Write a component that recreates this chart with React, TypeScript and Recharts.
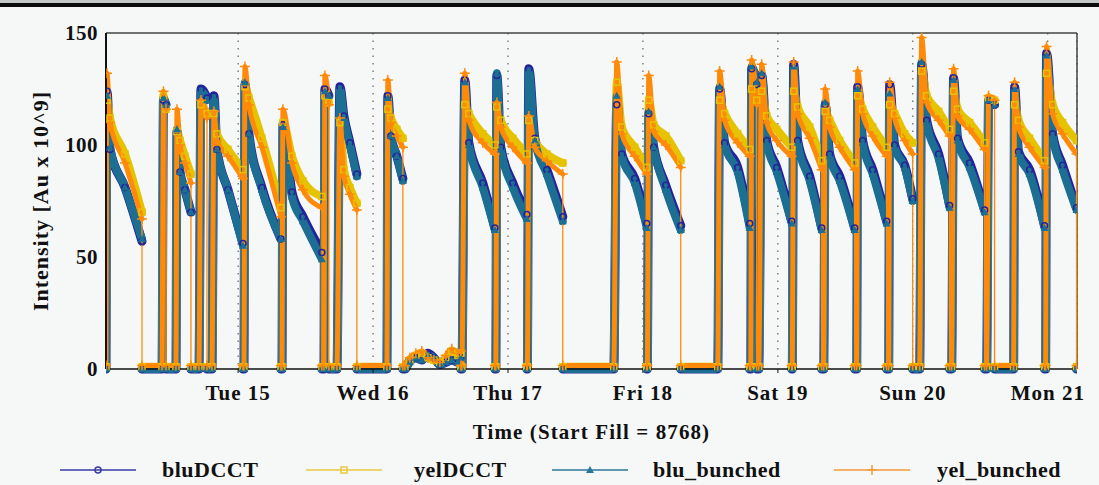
import { LineChart, Line, XAxis, YAxis, CartesianGrid, ReferenceLine } from "recharts"

// hours since Mon 14 00:00; first entry of each fill = injection start (beams at gap level)
const fillHours: number[][] = [
  [0.5, 0.68, 1.21, 3.88, 6.9],
  [10.46, 10.72, 11.17],
  [12.94, 13.12, 13.66, 14.54, 15.61],
  [17.03, 17.39, 18.46],
  [19.34, 19.7, 20.23, 22.19, 24.86],
  [25.03, 25.21, 25.92, 28.23, 31.61],
  [31.79, 31.97, 33.57, 35.52, 38.9],
  [39.26, 39.43, 40.14],
  [41.57, 42.1, 42.81, 43.88, 45.12],
  [50.46, 50.63, 51.17, 52.23, 53.3],
  [53.66, 54.54, 55.61, 56.68, 57.74, 58.81, 59.88, 60.94, 62.01, 63.08, 63.61],
  [63.79, 64.32, 65.03, 67.52, 69.66],
  [69.83, 70.01, 70.72, 72.86, 75.35],
  [75.43, 75.7, 76.77, 78.9, 81.74],
  [90.81, 91.34, 92.23, 94.54, 96.68],
  [96.77, 97.03, 97.92, 100.06, 102.72],
  [109.3, 109.64, 110.53, 112.84, 114.99],
  [115.17, 115.34, 116.23],
  [116.59, 117.12, 118.01, 119.79, 122.46],
  [122.55, 122.81, 123.52, 125.66, 127.79],
  [128.15, 128.41, 129.21, 130.99, 133.66],
  [134.01, 134.19, 135.08, 136.86, 139.35],
  [139.7, 139.88, 140.77, 142.55, 143.97],
  [145.21, 145.57, 146.46, 148.59, 150.54],
  [150.9, 151.25, 151.96, 154.1, 156.77],
  [157.12, 157.48, 158.54],
  [161.92, 162.1, 162.81, 164.77, 167.43],
  [167.61, 167.79, 168.86, 170.63, 173.12],
]

const bluDcct: number[][] = [
  [124, 98, 81, 57], [120, 118], [106, 88, 80, 70], [125, 121], [122, 98, 80, 56],
  [127, 105, 81, 58], [109, 79, 68, 52], [125, 122], [126, 113, 101, 87], [122, 104, 95, 85],
  [4, 5, 4, 7, 5, 2, 3, 4, 3, 5],
  [129, 101, 83, 63], [131, 99, 83, 69], [134, 103, 89, 68], [118, 96, 85, 65], [114, 99, 82, 64],
  [125, 101, 90, 65], [134, 127], [131, 102, 90, 66], [136, 102, 86, 63], [118, 96, 86, 63],
  [126, 102, 89, 66], [127, 100, 91, 76], [136, 111, 96, 73], [130, 103, 92, 71], [120, 118],
  [126, 97, 89, 64], [141, 105, 91, 72],
]

const yelDcct: number[][] = [
  [120, 112, 96, 70], [122, 116], [106, 102, 95, 87], [118, 114], [114, 105, 98, 89],
  [126, 121, 103, 72], [110, 95, 84, 77], [122, 119], [110, 89, 81, 74], [116, 112, 107, 103],
  [4, 6, 7, 5, 4, 3, 5, 8, 6, 7],
  [118, 114, 105, 100], [117, 111, 103, 96], [111, 102, 96, 92], [128, 108, 99, 90], [120, 109, 104, 93],
  [120, 114, 105, 98], [125, 120], [124, 113, 107, 99], [124, 117, 108, 93], [115, 111, 102, 92],
  [122, 116, 108, 99], [118, 114, 105, 101], [133, 122, 115, 107], [124, 116, 110, 101], [121, 120],
  [118, 111, 103, 93], [132, 118, 110, 102],
]

const bluBunched: number[][] = [
  [122, 99, 81, 58], [121, 118], [107, 88, 80, 70], [124, 120], [121, 98, 80, 55],
  [128, 105, 80, 58], [108, 77, 66, 49], [124, 122], [125, 112, 100, 86], [121, 104, 95, 84],
  [3, 5, 4, 6, 5, 2, 3, 4, 3, 5],
  [128, 100, 81, 62], [132, 98, 81, 67], [133, 102, 87, 66], [122, 95, 83, 63], [115, 99, 80, 62],
  [126, 100, 88, 63], [135, 128], [132, 101, 88, 65], [135, 101, 84, 62], [119, 95, 84, 62],
  [125, 101, 87, 65], [123, 99, 90, 75], [137, 110, 94, 72], [129, 102, 90, 70], [120, 118],
  [125, 96, 87, 63], [140, 104, 89, 71],
]

const yelBunched: number[][] = [
  [132, 110, 92, 67], [124, 116], [116, 100, 92, 83], [120, 112], [115, 102, 95, 85],
  [135, 118, 99, 68], [116, 92, 80, 72], [131, 118], [112, 86, 78, 71], [129, 110, 104, 99],
  [5, 7, 8, 5, 4, 3, 6, 9, 7, 8],
  [132, 111, 101, 96], [119, 108, 99, 92], [113, 99, 93, 87], [137, 105, 95, 87], [131, 106, 100, 90],
  [133, 111, 101, 95], [138, 118], [136, 110, 102, 95], [137, 114, 103, 89], [125, 108, 99, 89],
  [133, 114, 104, 95], [128, 112, 102, 96], [148, 119, 111, 104], [134, 113, 107, 98], [122, 120],
  [128, 108, 99, 90], [144, 114, 105, 96],
]

// reading between fills (no beam): yellow bunched sits just above zero
const gapLevel: Record<string, number> = { bluDCCT: 0, yelDCCT: 1, blu_bunched: 0, yel_bunched: 1.6 }

const dayTicks = [24, 48, 72, 96, 120, 144, 168]
const dayLabels = ["Tue 15", "Wed 16", "Thu 17", "Fri 18", "Sat 19", "Sun 20", "Mon 21"]
const yTicks = [0, 50, 100, 150]

const SERIES = [
  { key: "bluDCCT", values: bluDcct, color: "#24239c", legend: "#3b3ba8", width: 9, shape: "circle", lx: 60, tx: 162 },
  { key: "yelDCCT", values: yelDcct, color: "#e6c300", legend: "#e8c940", width: 8, shape: "square", lx: 306, tx: 414 },
  { key: "blu_bunched", values: bluBunched, color: "#1c6f92", legend: "#2a7898", width: 8, shape: "triangle", lx: 552, tx: 653 },
  { key: "yel_bunched", values: yelBunched, color: "#ff8a0a", legend: "#f59a3a", width: 5, shape: "plus", lx: 834, tx: 937 },
]

type Row = { t: number; [k: string]: number | null }

const rows: Row[] = []
fillHours.forEach((hours, i) => {
  const start: Row = { t: hours[0] }
  SERIES.forEach((s) => (start[s.key] = gapLevel[s.key]))
  rows.push(start)
  hours.slice(1).forEach((t, j) => {
    const r: Row = { t }
    SERIES.forEach((s) => (r[s.key] = s.values[i][j]))
    rows.push(r)
  })
  const end = hours[hours.length - 1]
  const cut: Row = { t: end }
  const after: Row = { t: end }
  SERIES.forEach((s) => {
    cut[s.key] = null
    after[s.key] = gapLevel[s.key]
  })
  rows.push(cut, after)
})

const dumps = fillHours.map((hours, i) => ({
  t: hours[hours.length - 1],
  v: yelBunched[i][yelBunched[i].length - 1],
}))

function Marker({ shape, color, cx, cy }: { shape: string; color: string; cx: number; cy: number }) {
  if (shape === "circle") return <circle cx={cx} cy={cy} r={3} fill="none" stroke={color} strokeWidth={1.5} />
  if (shape === "square")
    return <rect x={cx - 3} y={cy - 3} width={6} height={6} fill="none" stroke={color} strokeWidth={1.5} />
  if (shape === "triangle")
    return <path d={`M${cx},${cy - 4}L${cx + 4},${cy + 3}L${cx - 4},${cy + 3}Z`} fill={color} />
  return <path d={`M${cx - 5},${cy}H${cx + 5}M${cx},${cy - 5}V${cy + 5}`} stroke={color} strokeWidth={1.5} />
}

function makeDot(shape: string, color: string, name: string) {
  return (p: any) => {
    if (p.cx == null || p.cy == null || p.value == null || Number.isNaN(p.cy)) return <g key={`${name}-${p.index}`} />
    return (
      <g key={`${name}-${p.index}`}>
        <Marker shape={shape} color={color} cx={p.cx} cy={p.cy} />
      </g>
    )
  }
}

const FONT = "'Liberation Serif', 'Times New Roman', serif"
const tickStyle = { fill: "#111", fontSize: 21, fontWeight: 700, fontFamily: FONT, letterSpacing: 1 }

export default function App() {
  return (
    <div
      style={{
        position: "absolute",
        left: 0,
        top: 0,
        width: 1099,
        height: 485,
        overflow: "hidden",
        background: "#f6f8f8",
        fontFamily: FONT,
        fontWeight: 700,
        color: "#111",
      }}
    >
      <div style={{ position: "absolute", left: 0, top: 0, width: 1099, height: 3, background: "#c4c8c8" }} />
      <div style={{ position: "absolute", left: 0, top: 3, width: 1099, height: 4, background: "#0c0c0c" }} />
      <div style={{ position: "absolute", left: 0, top: 0 }}>
        <LineChart width={1099} height={450} data={rows} margin={{ top: 33, right: 22, bottom: 0, left: 0 }}>
          <CartesianGrid horizontal={false} stroke="#444" strokeDasharray="1.5 6" />
          <XAxis
            type="number"
            dataKey="t"
            domain={[0.5, 173.2]}
            allowDataOverflow
            ticks={dayTicks}
            tickFormatter={(v: number) => dayLabels[dayTicks.indexOf(v)]}
            tick={tickStyle}
            tickSize={4}
            tickMargin={12}
            tickLine={{ stroke: "#111" }}
            axisLine={{ stroke: "#111", strokeWidth: 1.5 }}
            height={81}
            label={{
              value: "Time (Start Fill = 8768)",
              position: "insideBottom",
              offset: 11,
              fill: "#111",
              fontSize: 21,
              fontWeight: 700,
              fontFamily: FONT,
              style: { letterSpacing: 1.1 },
            }}
          />
          <YAxis
            domain={[0, 150]}
            ticks={yTicks}
            width={106}
            tick={{ ...tickStyle, letterSpacing: 0.5 }}
            tickLine={false}
            axisLine={{ stroke: "#111", strokeWidth: 2 }}
            label={{
              value: "Intensity [Au x 10^9]",
              angle: -90,
              position: "insideLeft",
              offset: 40,
              fill: "#111",
              fontSize: 22,
              fontWeight: 700,
              fontFamily: FONT,
              style: { textAnchor: "middle", letterSpacing: 1 },
            }}
          />
          <ReferenceLine y={150} stroke="#444" strokeWidth={1.5} />
          <ReferenceLine x={173.2} stroke="#444" strokeWidth={1.5} />
          {SERIES.map((s) => (
            <Line
              key={s.key}
              dataKey={s.key}
              type="monotoneX"
              stroke={s.color}
              strokeWidth={s.width}
              strokeLinejoin="round"
              strokeLinecap="round"
              connectNulls={false}
              dot={makeDot(s.shape, s.color, s.key)}
              activeDot={false}
              isAnimationActive={false}
            />
          ))}
          {dumps.map((d, i) => (
            <ReferenceLine
              key={`dump-${i}`}
              segment={[
                { x: d.t, y: 0 },
                { x: d.t, y: d.v },
              ]}
              stroke="#ff8a0a"
              strokeWidth={1.3}
            />
          ))}
        </LineChart>
      </div>
      {SERIES.map((s) => (
        <div key={s.key}>
          <svg style={{ position: "absolute", left: s.lx, top: 462 }} width={76} height={16}>
            <line x1={0} y1={8} x2={76} y2={8} stroke={s.legend} strokeWidth={1.5} />
            <Marker shape={s.shape} color={s.legend} cx={38} cy={8} />
          </svg>
          <span style={{ position: "absolute", left: s.tx, top: 457, fontSize: 22, lineHeight: "26px", letterSpacing: 0.5 }}>
            {s.key}
          </span>
        </div>
      ))}
    </div>
  )
}
